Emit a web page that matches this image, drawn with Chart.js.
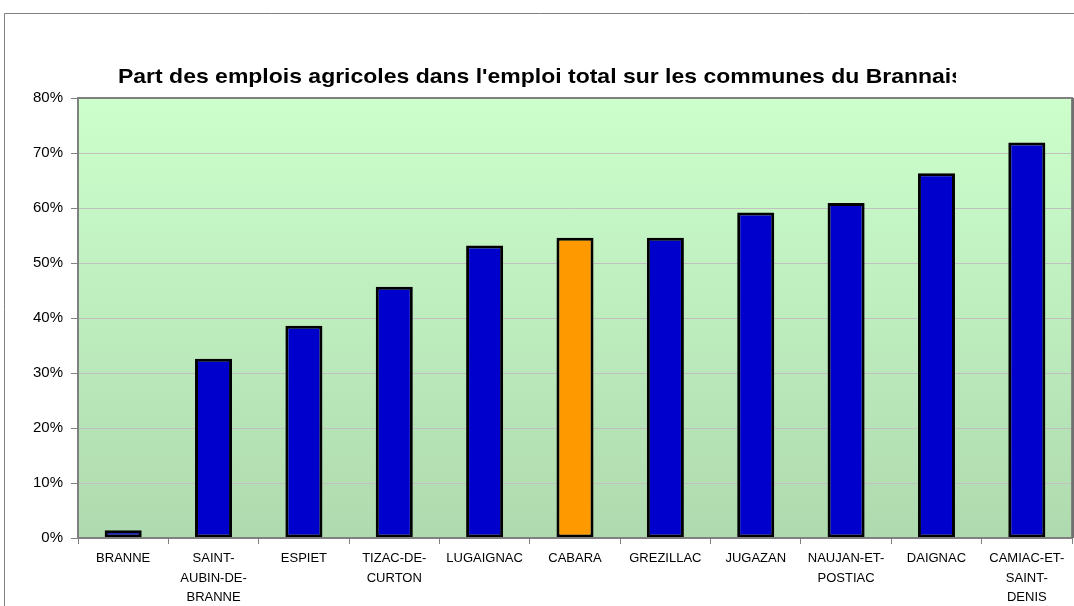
<!DOCTYPE html>
<html lang="fr">
<head>
    <meta charset="UTF-8">
    <title>Part des emplois agricoles</title>
    <script src="https://cdn.jsdelivr.net/npm/chart.js"></script>
    <style>
        body { margin: 0; background: #fff; }
        #wrap { width: 1074px; height: 606px; position: relative; }
    </style>
</head>
<body>
    <div id="wrap"><canvas id="myChart"></canvas></div>

    <script>
        const communes = [
            ["BRANNE"],
            ["SAINT-", "AUBIN-DE-", "BRANNE"],
            ["ESPIET"],
            ["TIZAC-DE-", "CURTON"],
            ["LUGAIGNAC"],
            ["CABARA"],
            ["GREZILLAC"],
            ["JUGAZAN"],
            ["NAUJAN-ET-", "POSTIAC"],
            ["DAIGNAC"],
            ["CAMIAC-ET-", "SAINT-", "DENIS"]
        ];
        const partAgricole = [1.4, 32.6, 38.6, 45.7, 53.2, 54.6, 54.6, 59.2, 60.9, 66.3, 71.9];
        const highlighted = "CABARA";
        const titre = "Part des emplois agricoles dans l'emploi total sur les communes du Brannais";

        const barColors = communes.map(c => c[0] === highlighted ? "#FF9900" : "#0000CC");

        // fond dégradé, cadre, titre tronqué comme dans Excel
        const decor = {
            id: "decor",
            beforeDraw(chart) {
                const { ctx, chartArea: a } = chart;
                ctx.save();
                ctx.strokeStyle = "#808080";
                ctx.lineWidth = 1;
                ctx.beginPath();
                ctx.moveTo(4.5, 606);
                ctx.lineTo(4.5, 13.5);
                ctx.lineTo(1074, 13.5);
                ctx.stroke();
                const g = ctx.createLinearGradient(0, a.top, 0, a.bottom);
                g.addColorStop(0, "#CCFFCC");
                g.addColorStop(1, "#AFDAAF");
                ctx.fillStyle = g;
                ctx.fillRect(a.left, a.top, a.right - a.left, a.bottom - a.top);
                ctx.restore();
            },
            afterDatasetsDraw(chart) {
                const { ctx, chartArea: a } = chart;
                ctx.save();
                ctx.strokeStyle = "#808080";
                ctx.lineWidth = 2;
                ctx.strokeRect(a.left, a.top, a.right - a.left, a.bottom - a.top);
                ctx.beginPath();
                ctx.moveTo(a.right + 1, a.top);
                ctx.lineTo(a.right + 1, a.bottom);
                ctx.strokeStyle = "#707070";
                ctx.stroke();

                ctx.beginPath();
                ctx.rect(0, 0, 956, 606);
                ctx.clip();
                ctx.fillStyle = "#000";
                ctx.font = "bold 21px 'Liberation Sans', Arial, sans-serif";
                ctx.textAlign = "center";
                ctx.textBaseline = "middle";
                const w = ctx.measureText(titre).width;
                ctx.translate(541, 77);
                ctx.scale(846 / w, 1);
                ctx.fillText(titre, 0, 0);
                ctx.restore();
            }
        };

        new Chart(document.getElementById("myChart"), {
            type: "bar",
            data: {
                labels: communes,
                datasets: [{
                    data: partAgricole,
                    backgroundColor: barColors,
                    borderColor: "#000000",
                    borderWidth: 3,
                    borderSkipped: false,
                    categoryPercentage: 1,
                    barPercentage: 0.41
                }]
            },
            options: {
                responsive: true,
                maintainAspectRatio: false,
                animation: false,
                layout: { padding: { top: 98, right: 2, left: 0, bottom: 0 } },
                plugins: {
                    legend: { display: false },
                    tooltip: { enabled: false }
                },
                scales: {
                    x: {
                        grid: {
                            offset: true,
                            drawOnChartArea: false,
                            drawTicks: true,
                            tickLength: 6,
                            color: "#808080"
                        },
                        border: { color: "#808080", width: 2 },
                        ticks: {
                            color: "#000",
                            maxRotation: 0,
                            autoSkip: false,
                            padding: 5,
                            font: { family: "'Liberation Sans', Arial, sans-serif", size: 13, lineHeight: 1.5 }
                        },
                        afterFit(scale) { scale.height = 68; }
                    },
                    y: {
                        min: 0,
                        max: 80,
                        ticks: {
                            stepSize: 10,
                            color: "#000",
                            padding: 8,
                            callback: v => v + "%",
                            font: { family: "'Liberation Sans', Arial, sans-serif", size: 15 }
                        },
                        grid: {
                            color: "#C0C0C0",
                            lineWidth: 1,
                            tickLength: 7,
                            tickColor: "#808080"
                        },
                        border: { color: "#808080", width: 2 },
                        afterFit(scale) { scale.width = 78; }
                    }
                }
            },
            plugins: [decor]
        });
    </script>
</body>
</html>
